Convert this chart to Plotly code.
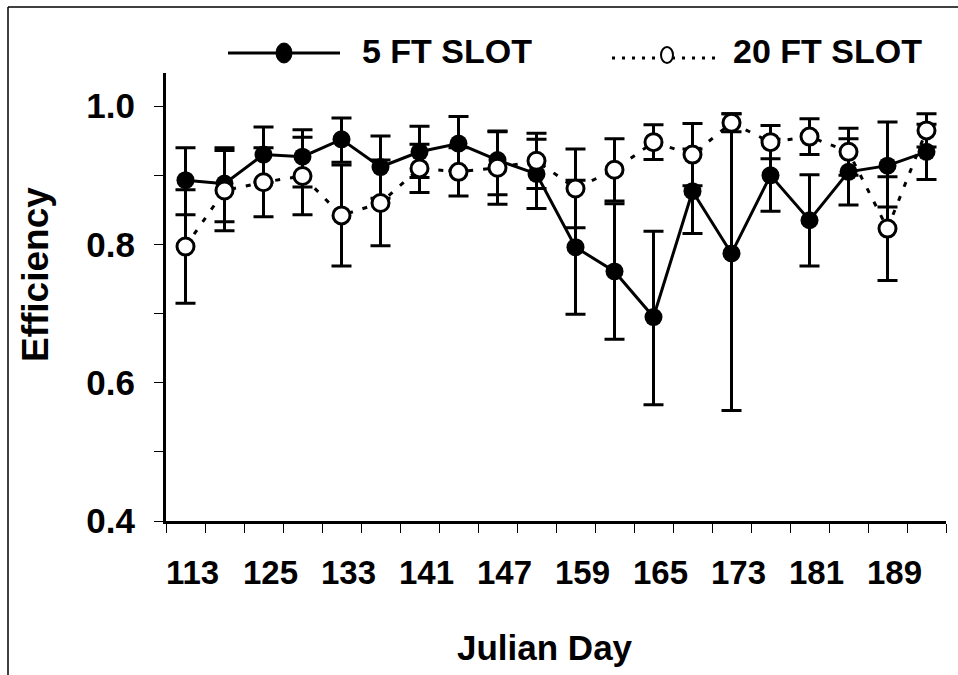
import plotly.graph_objects as go

# Julian day labels (every other sampling day is labelled on the axis)
day_labels = ["113", "", "125", "", "133", "", "141", "", "147", "",
              "159", "", "165", "", "173", "", "181", "", "189", ""]

# 5 FT SLOT efficiency with upper / lower error
slot5 = [0.893, 0.888, 0.930, 0.927, 0.952, 0.912, 0.934, 0.946, 0.922, 0.902,
         0.796, 0.761, 0.695, 0.877, 0.787, 0.900, 0.835, 0.905, 0.914, 0.934]
slot5_err_up = [0.047, 0.052, 0.040, 0.039, 0.031, 0.045, 0.037, 0.039, 0.041, 0.050,
                0.097, 0.098, 0.124, 0.061, 0.202, 0.052, 0.066, 0.048, 0.063, 0.040]
slot5_err_dn = [0.050, 0.055, 0.040, 0.044, 0.033, 0.045, 0.037, 0.039, 0.050, 0.050,
                0.097, 0.098, 0.127, 0.061, 0.227, 0.052, 0.066, 0.048, 0.060, 0.040]

# 20 FT SLOT efficiency with symmetric error
slot20 = [0.797, 0.878, 0.890, 0.899, 0.842, 0.860, 0.910, 0.905, 0.911, 0.921,
          0.881, 0.908, 0.948, 0.930, 0.976, 0.948, 0.956, 0.934, 0.823, 0.965]
slot20_err = [0.082, 0.058, 0.050, 0.056, 0.073, 0.062, 0.035, 0.035, 0.053, 0.040,
              0.057, 0.045, 0.025, 0.045, 0.013, 0.024, 0.026, 0.034, 0.075, 0.024]

y_tick_vals = [0.4, 0.5, 0.6, 0.7, 0.8, 0.9, 1.0]
y_tick_text = ["0.4", "", "0.6", "", "0.8", "", "1.0"]

W, H = 958, 675
L, R, T, B = 166, 12, 73, 154
FONT = "Liberation Sans, Arial, sans-serif"
idx = list(range(len(day_labels)))


def px_x(px):
    return (px - L) / (W - L - R)


def px_y(py):
    return (H - B - py) / (H - T - B)


fig = go.Figure()

fig.add_trace(go.Scatter(
    x=idx, y=slot5, mode="lines+markers", name="5 FT SLOT",
    line=dict(color="black", width=3),
    marker=dict(symbol="circle", size=18, color="black"),
    error_y=dict(type="data", symmetric=False, array=slot5_err_up,
                 arrayminus=slot5_err_dn, color="black", thickness=3, width=10),
))

fig.add_trace(go.Scatter(
    x=idx, y=slot20, mode="lines+markers", name="20 FT SLOT",
    line=dict(color="black", width=3, dash="5px,10px"),
    marker=dict(symbol="circle", size=17, color="white",
                line=dict(color="black", width=3)),
    error_y=dict(type="data", array=slot20_err, color="black",
                 thickness=3, width=10),
))

shapes = [
    # outer frame of the figure (left and top edges)
    dict(type="line", xref="paper", yref="paper", x0=px_x(8), x1=px_x(8),
         y0=px_y(7), y1=px_y(H), line=dict(color="black", width=1.5)),
    dict(type="line", xref="paper", yref="paper", x0=px_x(8), x1=px_x(W),
         y0=px_y(7), y1=px_y(7), line=dict(color="black", width=1.5)),
    # legend samples
    dict(type="line", xref="paper", yref="paper", x0=px_x(228), x1=px_x(340),
         y0=px_y(53), y1=px_y(53), line=dict(color="black", width=3)),
    dict(type="circle", xref="paper", yref="paper", xsizemode="pixel",
         ysizemode="pixel", xanchor=px_x(284), yanchor=px_y(53),
         x0=-8, x1=8, y0=-10, y1=10, fillcolor="black",
         line=dict(color="black", width=1)),
    dict(type="line", xref="paper", yref="paper", x0=px_x(612), x1=px_x(722),
         y0=px_y(58), y1=px_y(58),
         line=dict(color="black", width=3, dash="3px,7px")),
    dict(type="circle", xref="paper", yref="paper", xsizemode="pixel",
         ysizemode="pixel", xanchor=px_x(667), yanchor=px_y(55),
         x0=-6, x1=6, y0=-8, y1=8, fillcolor="white",
         line=dict(color="black", width=2)),
]

annotations = [
    dict(text="<b>5 FT SLOT</b>", xref="paper", yref="paper",
         x=px_x(360), y=px_y(51), xanchor="left", yanchor="middle",
         showarrow=False, font=dict(family=FONT, size=34, color="black")),
    dict(text="<b>20 FT SLOT</b>", xref="paper", yref="paper",
         x=px_x(731), y=px_y(51), xanchor="left", yanchor="middle",
         showarrow=False, font=dict(family=FONT, size=34, color="black")),
    dict(text="<b>Julian Day</b>", xref="paper", yref="paper",
         x=px_x(545), y=px_y(647), xanchor="center", yanchor="middle",
         showarrow=False, font=dict(family=FONT, size=35, color="black")),
    dict(text="<b>Efficiency</b>", xref="paper", yref="paper",
         x=px_x(35), y=px_y(275), xanchor="center", yanchor="middle",
         textangle=-90, showarrow=False,
         font=dict(family=FONT, size=37, color="black")),
]

fig.update_layout(
    width=W, height=H,
    margin=dict(l=L, r=R, t=T, b=B, pad=0),
    paper_bgcolor="white", plot_bgcolor="white",
    showlegend=False,
    font=dict(family=FONT, color="black"),
    shapes=shapes, annotations=annotations,
    xaxis=dict(
        range=[-0.5, len(day_labels) - 0.5], tickmode="array",
        tickvals=idx, ticktext=day_labels, ticks="", showgrid=False,
        zeroline=False, showline=True, linecolor="black", linewidth=3,
        tickfont=dict(family=FONT, size=33, color="black", weight="bold"),
        ticklabelstandoff=20, ticklabelshift=7,
        minor=dict(tick0=-0.5, dtick=1, ticks="outside", ticklen=9,
                   tickcolor="black", tickwidth=1, showgrid=False),
    ),
    yaxis=dict(
        range=[0.4, 1.048], tickmode="array", tickvals=y_tick_vals,
        ticktext=y_tick_text, ticks="outside", ticklen=9, tickwidth=1,
        tickcolor="black", showgrid=False, zeroline=False, showline=True,
        linecolor="black", linewidth=3,
        tickfont=dict(family=FONT, size=35, color="black", weight="bold"),
        ticklabelstandoff=12,
    ),
)

fig.write_html("out.html")
